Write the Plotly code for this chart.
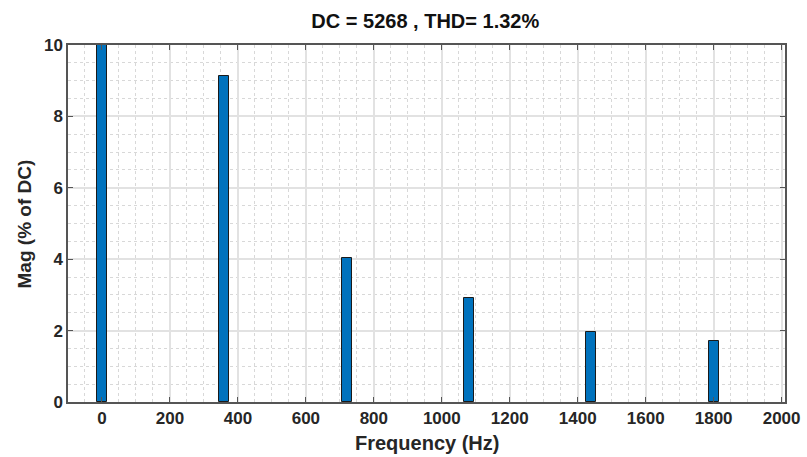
import plotly.graph_objects as go

freqs = [0, 360, 720, 1080, 1440, 1800]
mags = [100, 9.13, 4.02, 2.92, 1.97, 1.72]
x_ticks = [0, 200, 400, 600, 800, 1000, 1200, 1400, 1600, 1800, 2000]
y_ticks = [0, 2, 4, 6, 8, 10]
title_text = "DC = 5268 , THD= 1.32%"
x_title = "Frequency (Hz)"
y_title = "Mag (% of DC)"

fig = go.Figure()
fig.add_trace(go.Bar(
    x=freqs, y=mags, width=30,
    marker=dict(color="#0072BD", line=dict(color="#1a1a1a", width=1)),
))

font_fam = "Liberation Sans, Arial, sans-serif"
axis_common = dict(
    showline=True, linecolor="#555555", linewidth=1.5, mirror="allticks",
    ticks="inside", ticklen=5, tickcolor="#555555", tickwidth=1,
    showgrid=True, gridcolor="#e2e2e2", gridwidth=1.5,
    zeroline=False, automargin=False,
    tickfont=dict(family=font_fam, size=17, color="#262626", weight="bold"),
)

fig.update_xaxes(
    range=[-100, 2010], tickvals=x_ticks,
    minor=dict(dtick=50, showgrid=True, gridcolor="#d8d8d8", griddash="dot", gridwidth=1, ticks=""),
    **axis_common,
)
fig.update_yaxes(
    range=[0, 10], tickvals=y_ticks,
    minor=dict(dtick=0.5, showgrid=True, gridcolor="#d8d8d8", griddash="dot", gridwidth=1, ticks=""),
    **axis_common,
)

fig.add_annotation(text=x_title, xref="paper", yref="paper", x=0.5, y=-0.115,
                   xanchor="center", yanchor="middle", showarrow=False,
                   font=dict(family=font_fam, size=20, color="#262626", weight="bold"))
fig.add_annotation(text=y_title, xref="paper", yref="paper", x=-0.06, y=0.5,
                   xanchor="center", yanchor="middle", showarrow=False, textangle=-90,
                   font=dict(family=font_fam, size=19, color="#262626", weight="bold"))

fig.update_layout(
    width=807, height=457,
    margin=dict(l=68, r=22, t=45, b=55),
    plot_bgcolor="white", paper_bgcolor="white",
    showlegend=False,
    title=dict(text=title_text, x=0.527, xanchor="center", y=0.954, yanchor="middle",
               font=dict(family=font_fam, size=20, color="#111111", weight="bold")),
    bargap=0,
)

fig.write_html("out.html")
